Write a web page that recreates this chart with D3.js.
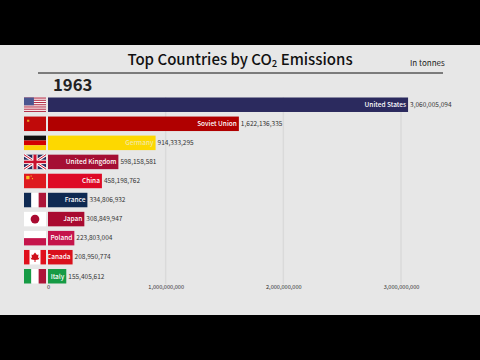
<!DOCTYPE html>
<html>
<head>
<meta charset="UTF-8">
<title>Top Countries by CO2 Emissions</title>
<script src="https://d3js.org/d3.v7.min.js"></script>
<style>
    html, body { margin: 0; padding: 0; background: #000; }
    svg { display: block; }
    text { font-family: "Noto Sans CJK KR", "Noto Sans", sans-serif; }
</style>
</head>
<body>
<script>
var countries = ["United States", "Soviet Union", "Germany", "United Kingdom", "China", "France", "Japan", "Poland", "Canada", "Italy"];
var emissions = [3060005094, 1622136335, 914333295, 598158581, 458198762, 334806932, 308849947, 223803004, 208950774, 155405612];
var barColors = ["#2b2a5e", "#b00000", "#fdd800", "#a50f34", "#de0a26", "#0f2a52", "#a90a30", "#c5144b", "#d9101c", "#169b45"];
var tickValues = [0, 1000000000, 2000000000, 3000000000];

var width = 480, height = 360;
var flagWidth = 22;

var svg = d3.select("body").append("svg")
    .attr("width", width)
    .attr("height", height);

svg.append("rect").attr("width", width).attr("height", height).attr("fill", "#000");
svg.append("rect").attr("y", 45).attr("width", width).attr("height", 270).attr("fill", "#e7e7e7");

var x = d3.scaleLinear().domain([0, 3000000000]).range([48, 401]);
var y = d3.scaleBand().domain(countries).range([97.5, 283.5]).paddingInner(0.24);

// gridlines and axis
var axis = d3.axisBottom(x).tickValues(tickValues).tickFormat(d3.format(",")).tickSize(0);
var axisG = svg.append("g").attr("transform", "translate(0,286)").call(axis);
axisG.select(".domain").remove();
axisG.selectAll("text").attr("font-size", 5.6).attr("fill", "#333").attr("dy", "0.5em").attr("y", 0);

svg.append("g").selectAll("line")
    .data(tickValues.slice(1))
    .enter().append("line")
    .attr("x1", function(d) { return x(d); })
    .attr("x2", function(d) { return x(d); })
    .attr("y1", 97)
    .attr("y2", 284)
    .attr("stroke", "#dadada")
    .attr("stroke-width", 1.5);

// title
var title = svg.append("text")
    .attr("x", 240).attr("y", 65)
    .attr("text-anchor", "middle")
    .attr("font-size", 15)
    .attr("font-weight", 500)
    .attr("fill", "#111");
title.append("tspan").text("Top Countries by CO");
title.append("tspan").text("2").attr("font-size", 9.5).attr("dy", 2);
title.append("tspan").text(" Emissions").attr("dy", -2);

svg.append("text").attr("x", 410).attr("y", 66)
    .attr("font-size", 8).attr("fill", "#222").text("In tonnes");

svg.append("line")
    .attr("x1", 38).attr("x2", 443).attr("y1", 73).attr("y2", 73)
    .attr("stroke", "#111").attr("stroke-width", 1);

svg.append("text").attr("x", 53).attr("y", 91)
    .attr("font-size", 16.7).attr("font-weight", 700).attr("fill", "#222").text("1963");

// bars
var rows = svg.append("g").selectAll("g")
    .data(countries)
    .enter().append("g")
    .attr("transform", function(d) { return "translate(0," + y(d) + ")"; });

rows.append("clipPath")
    .attr("id", function(d, i) { return "clip" + i; })
    .append("rect")
    .attr("x", x(0))
    .attr("width", function(d, i) { return x(emissions[i]) - x(0); })
    .attr("height", y.bandwidth());

rows.append("rect")
    .attr("x", x(0))
    .attr("width", function(d, i) { return x(emissions[i]) - x(0); })
    .attr("height", y.bandwidth())
    .attr("fill", function(d, i) { return barColors[i]; });

rows.append("text")
    .attr("clip-path", function(d, i) { return "url(#clip" + i + ")"; })
    .attr("x", function(d, i) { return x(emissions[i]) - 2; })
    .attr("y", y.bandwidth() / 2)
    .attr("dy", "0.35em")
    .attr("text-anchor", "end")
    .attr("font-size", 6.5)
    .attr("font-weight", 500)
    .attr("fill", function(d) { return d === "Germany" ? "#f3e9a0" : "#fff"; })
    .text(function(d) { return d; });

rows.append("text")
    .attr("x", function(d, i) { return x(emissions[i]) + 2; })
    .attr("y", y.bandwidth() / 2)
    .attr("dy", "0.35em")
    .attr("font-size", 6.5)
    .attr("fill", "#333")
    .text(function(d, i) { return d3.format(",")(emissions[i]); });

// flags
var flags = rows.append("g").attr("transform", "translate(24,0)");

flags.each(function(d) {
    var g = d3.select(this), w = flagWidth, h = y.bandwidth();
    function r(color, x0, y0, x1, y1) {
        g.append("rect")
            .attr("x", x0 * w).attr("y", y0 * h)
            .attr("width", (x1 - x0) * w).attr("height", (y1 - y0) * h)
            .attr("fill", color);
    }
    function l(x0, y0, x1, y1, color, sw) {
        g.append("line")
            .attr("x1", x0 * w).attr("y1", y0 * h).attr("x2", x1 * w).attr("y2", y1 * h)
            .attr("stroke", color).attr("stroke-width", sw);
    }
    if (d === "United States") {
        r("#fff", 0, 0, 1, 1);
        d3.range(0, 13, 2).forEach(function(k) { r("#b5324a", 0, k / 13, 1, (k + 1) / 13); });
        r("#4a5690", 0, 0, 0.45, 7 / 13);
    } else if (d === "Soviet Union") {
        r("#c00a0a", 0, 0, 1, 1);
        r("#e8a020", 0.14, 0.22, 0.24, 0.36);
    } else if (d === "Germany") {
        r("#111", 0, 0, 1, 1 / 3);
        r("#d40000", 0, 1 / 3, 1, 2 / 3);
        r("#fdd000", 0, 2 / 3, 1, 1);
    } else if (d === "United Kingdom") {
        r("#262a5c", 0, 0, 1, 1);
        l(0, 0, 1, 1, "#fff", 3);
        l(1, 0, 0, 1, "#fff", 3);
        l(0, 0, 1, 1, "#c8102e", 1);
        l(1, 0, 0, 1, "#c8102e", 1);
        r("#fff", 0.38, 0, 0.62, 1);
        r("#fff", 0, 0.35, 1, 0.65);
        r("#c8102e", 0.43, 0, 0.57, 1);
        r("#c8102e", 0, 0.41, 1, 0.59);
    } else if (d === "China") {
        r("#de1a20", 0, 0, 1, 1);
        r("#f5c020", 0.1, 0.15, 0.25, 0.38);
        r("#f5c020", 0.3, 0.12, 0.35, 0.2);
        r("#f5c020", 0.36, 0.3, 0.41, 0.38);
    } else if (d === "France") {
        r("#0f2a52", 0, 0, 1 / 3, 1);
        r("#fff", 1 / 3, 0, 2 / 3, 1);
        r("#ad1538", 2 / 3, 0, 1, 1);
    } else if (d === "Japan") {
        r("#fff", 0, 0, 1, 1);
        g.append("circle").attr("cx", w / 2).attr("cy", h / 2).attr("r", h * 0.3).attr("fill", "#a90a30");
    } else if (d === "Poland") {
        r("#fff", 0, 0, 1, 0.5);
        r("#c5144b", 0, 0.5, 1, 1);
    } else if (d === "Canada") {
        r("#fff", 0, 0, 1, 1);
        r("#e0101c", 0, 0, 0.25, 1);
        r("#e0101c", 0.75, 0, 1, 1);
        g.append("path")
            .attr("d", "M11 2.5L13 5L14.5 4.5L14 8L15.5 7.5L14.5 9.5L11.5 10L11.5 12L10.5 12L10.5 10L7.5 9.5L6.5 7.5L8 8L7.5 4.5L9 5Z")
            .attr("fill", "#d0101c");
    } else if (d === "Italy") {
        r("#169b45", 0, 0, 1 / 3, 1);
        r("#fff", 1 / 3, 0, 2 / 3, 1);
        r("#ad1538", 2 / 3, 0, 1, 1);
    }
});
</script>
</body>
</html>
